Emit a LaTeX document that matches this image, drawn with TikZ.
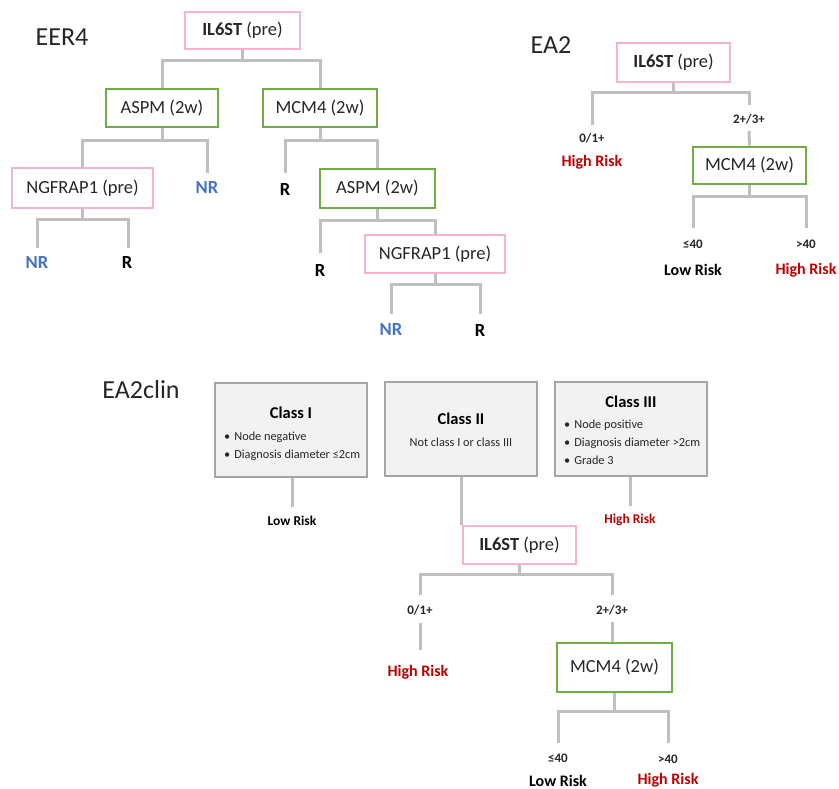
\documentclass[tikz,border=0pt]{standalone}
\usepackage{fontspec}
\setmainfont{Carlito}
\definecolor{pinkb}{HTML}{F4B4CB}
\definecolor{greenb}{HTML}{70AD47}
\definecolor{linec}{HTML}{BFBFBF}
\definecolor{nrblue}{HTML}{4472C4}
\definecolor{riskred}{HTML}{C00000}
\definecolor{classb}{HTML}{A6A6A6}
\definecolor{classf}{HTML}{F2F2F2}
\definecolor{txt}{HTML}{262626}
\begin{document}
\begin{tikzpicture}[x=1pt,y=-1pt,
  box/.style={line width=2.6pt,inner sep=0pt,text=txt,font=\fontsize{18.5}{20}\selectfont},
  pinkbox/.style={box,draw=pinkb},
  greenbox/.style={box,draw=greenb},
  classbox/.style={draw=classb,fill=classf,line width=2.6pt,inner sep=0pt,minimum width=152pt,minimum height=94pt},
  conn/.style={draw=linec,line width=3pt},
  title/.style={font=\fontsize{26}{28}\selectfont,text=txt},
  leaf/.style={font=\bfseries\fontsize{18.5}{20}\selectfont,inner sep=0pt},
  nr/.style={leaf,text=nrblue},
  rr/.style={leaf,text=black},
  small/.style={font=\bfseries\fontsize{13}{15}\selectfont,inner sep=0pt,text=txt},
  risk/.style={font=\bfseries\fontsize{16}{18}\selectfont,inner sep=0pt},
  hi/.style={risk,text=riskred},
  lo/.style={risk,text=black},
  crisk/.style={font=\bfseries\fontsize{13.5}{15}\selectfont,inner sep=0pt},
  ctitle/.style={font=\bfseries\fontsize{16.5}{18}\selectfont,inner sep=0pt,text=black},
  ctext/.style={font=\fontsize{12.3}{14}\selectfont,inner sep=0pt,text=txt,anchor=west}
]
\useasboundingbox (0,0) rectangle (839,789);

% ---------------- EER4 ----------------
\node[title] (tEER) at (62,37) {EER4};
\node[pinkbox,minimum width=115pt,minimum height=37pt] (a0) at (242.5,30.5) {\textbf{IL6ST} (pre)};
\node[greenbox,minimum width=112pt,minimum height=38pt] (a1) at (162,108) {ASPM (2w)};
\node[greenbox,minimum width=114pt,minimum height=38pt] (a2) at (320,108) {MCM4 (2w)};
\node[pinkbox,minimum width=141pt,minimum height=40pt] (a3) at (82.5,188) {NGFRAP1 (pre)};
\node[nr] (a4) at (207,188) {NR};
\node[rr] (a5) at (285,190) {R};
\node[greenbox,minimum width=115pt,minimum height=39pt] (a6) at (377.5,188.5) {ASPM (2w)};
\node[nr] (a7) at (37,263) {NR};
\node[rr] (a8) at (127,263) {R};
\node[rr] (a9) at (320,271) {R};
\node[pinkbox,minimum width=140pt,minimum height=38pt] (a10) at (435,254) {NGFRAP1 (pre)};
\node[nr] (a11) at (391,330) {NR};
\node[rr] (a12) at (480,331) {R};
\coordinate (e4) at (207,173);
\coordinate (e5) at (285,173);
\coordinate (e7) at (37,248);
\coordinate (e8) at (128,248);
\coordinate (e9) at (320,253);
\coordinate (e11) at (391,314);
\coordinate (e12) at (480,314);

\draw[conn] (a0.south) -- ++(0,10) -| (a1.north);
\draw[conn] (a0.south) -- ++(0,10) -| (a2.north);
\draw[conn] (a1.south) -- ++(0,12) -| (a3.north);
\draw[conn] (a1.south) -- ++(0,12) -| (e4);
\draw[conn] (a2.south) -- ++(0,12) -| (e5);
\draw[conn] (a2.south) -- ++(0,12) -| (a6.north);
\draw[conn] (a3.south) -- ++(0,10) -| (e7);
\draw[conn] (a3.south) -- ++(0,10) -| (e8);
\draw[conn] (a6.south) -- ++(0,11) -| (e9);
\draw[conn] (a6.south) -- ++(0,11) -| (a10.north);
\draw[conn] (a10.south) -- ++(0,10) -| (e11);
\draw[conn] (a10.south) -- ++(0,10) -| (e12);

% ---------------- EA2 ----------------
\node[title] (tEA2) at (551,45) {EA2};
\node[pinkbox,minimum width=113pt,minimum height=39pt] (b0) at (673.5,62.5) {\textbf{IL6ST} (pre)};
\node[small] (b1) at (592,138) {0/1+};
\node[hi] (b2) at (592,162) {High Risk};
\node[small] (b3) at (749,119) {2+/3+};
\node[greenbox,minimum width=113pt,minimum height=37pt] (b4) at (749.5,165.5) {MCM4 (2w)};
\node[small] (b5) at (693,244) {≤40};
\node[small] (b6) at (806,244) {>40};
\node[lo] (b7) at (693,270) {Low Risk};
\node[hi] (b8) at (806,270) {High Risk};
\coordinate (f1) at (592,125);
\coordinate (f3) at (749,105);
\coordinate (f3b) at (749,131);
\coordinate (f5) at (693,228);
\coordinate (f6) at (806,228);

\draw[conn] (b0.south) -- ++(0,9) -| (f1);
\draw[conn] (b0.south) -- ++(0,9) -| (f3);
\draw[conn] (f3b) -- (b4.north);
\draw[conn] (b4.south) -- ++(0,11) -| (f5);
\draw[conn] (b4.south) -- ++(0,11) -| (f6);

% ---------------- EA2clin ----------------
\node[title] (tClin) at (141,390) {EA2clin};
\node[classbox] (c1) at (291,430) {};
\node[classbox] (c2) at (461,429) {};
\node[classbox] (c3) at (631,429) {};
\node[ctitle] (c1t) at (291,413) {Class I};
\node[ctext] (c1a) at (224,437) {•\hspace{4pt}Node negative};
\node[ctext] (c1b) at (224,455) {•\hspace{4pt}Diagnosis diameter ≤2cm};
\node[ctitle] (c2t) at (461,419) {Class II};
\node[font=\fontsize{12.3}{14}\selectfont,inner sep=0pt,text=txt] (c2a) at (461,442) {Not class I or class III};
\node[ctitle] (c3t) at (631,402) {Class III};
\node[ctext] (c3a) at (564,425) {•\hspace{4pt}Node positive};
\node[ctext] (c3b) at (564,443) {•\hspace{4pt}Diagnosis diameter >2cm};
\node[ctext] (c3c) at (564,460) {•\hspace{4pt}Grade 3};
\node[crisk,text=black] (c1r) at (292,521) {Low Risk};
\node[crisk,text=riskred] (c3r) at (630,520) {High Risk};
\coordinate (g1) at (292,507);
\coordinate (g3) at (630,506);
\draw[conn] (c1.south -| g1) -- (g1);
\draw[conn] (c3.south -| g3) -- (g3);

\node[pinkbox,minimum width=113pt,minimum height=38pt] (d0) at (519.5,545) {\textbf{IL6ST} (pre)};
\draw[conn] (c2.south) -- (d0.north -| c2.south);
\node[small] (d1) at (420,610) {0/1+};
\node[small] (d2) at (612,610) {2+/3+};
\node[hi] (d3) at (418,672) {High Risk};
\node[greenbox,minimum width=115pt,minimum height=49pt] (d4) at (614.5,667.5) {MCM4 (2w)};
\node[small] (d5) at (558,758) {≤40};
\node[small] (d6) at (668,759) {>40};
\node[lo] (d7) at (558,781) {Low Risk};
\node[hi] (d8) at (668,780) {High Risk};
\coordinate (h1) at (420,595);
\coordinate (h2) at (612,595);
\coordinate (h1b) at (420,623);
\coordinate (h1c) at (420,650);
\coordinate (h2b) at (612,622);
\coordinate (h5) at (558,743);
\coordinate (h6) at (668,743);

\draw[conn] (d0.south) -- ++(0,9) -| (h1);
\draw[conn] (d0.south) -- ++(0,9) -| (h2);
\draw[conn] (h1b) -- (h1c);
\draw[conn] (h2b) -- (d4.north -| h2b);
\draw[conn] (d4.south) -- ++(0,18) -| (h5);
\draw[conn] (d4.south) -- ++(0,18) -| (h6);
\end{tikzpicture}
\end{document}
